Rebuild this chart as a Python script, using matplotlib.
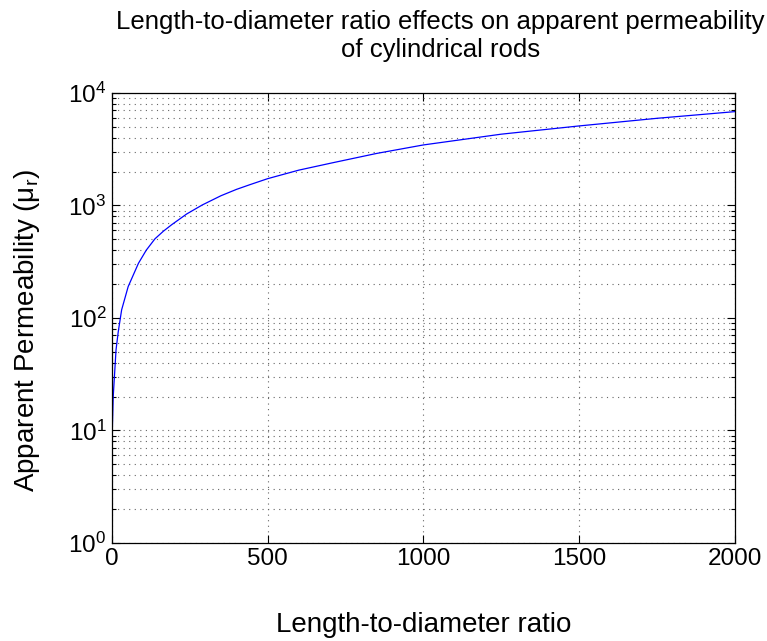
import matplotlib
matplotlib.use('Agg')
import matplotlib.pyplot as plt

plt.rcParams['font.family'] = ['Liberation Sans', 'DejaVu Sans']
plt.rcParams['mathtext.fontset'] = 'custom'
plt.rcParams['mathtext.rm'] = 'Liberation Sans'
plt.rcParams['mathtext.it'] = 'Liberation Sans'

# values
ld_ratio = [0, 1, 4, 13, 20, 31, 52, 85, 110, 138, 165, 192, 240, 290,
            350, 400, 443, 500, 600, 710, 850, 1000, 1250, 1500, 1750, 2000]
mu_app = [4, 10, 20, 52, 75, 118, 190, 306, 400, 505, 590, 675, 840, 1010,
          1220, 1390, 1530, 1730, 2060, 2400, 2900, 3450, 4300, 5090, 5950, 6820]

fig = plt.figure(figsize=(7.67, 6.41), dpi=100)
ax = fig.add_axes([0.146, 0.153, 0.812, 0.702])

ax.plot(ld_ratio, mu_app, color='#0000ff', linewidth=0.9)
ax.set_yscale('log')
ax.set_xlim(0, 2000)
ax.set_ylim(1, 1e4)
ax.set_xticks([0, 500, 1000, 1500, 2000])

ax.grid(True, which='major', linestyle=(0, (1, 4)), color='0.4', linewidth=0.8)
ax.grid(True, which='minor', axis='y', linestyle=(0, (1, 4)), color='0.4', linewidth=0.8)
ax.tick_params(which='both', direction='in', top=True, right=True,
               labelsize=17.5, width=0.8)
ax.tick_params(which='major', length=6, pad=4)
ax.tick_params(which='minor', length=3)
for s in ax.spines.values():
    s.set_linewidth(0.9)

ax.set_title('Length-to-diameter ratio effects on apparent permeability\nof cylindrical rods',
             fontsize=18.5, pad=26, x=0.527)
ax.set_xlabel('Length-to-diameter ratio', fontsize=20, labelpad=30)
ax.set_ylabel('Apparent Permeability (μ$_r$)', fontsize=20)
ax.yaxis.set_label_coords(-0.112, 0.473)

fig.savefig('out.png', dpi=100)
